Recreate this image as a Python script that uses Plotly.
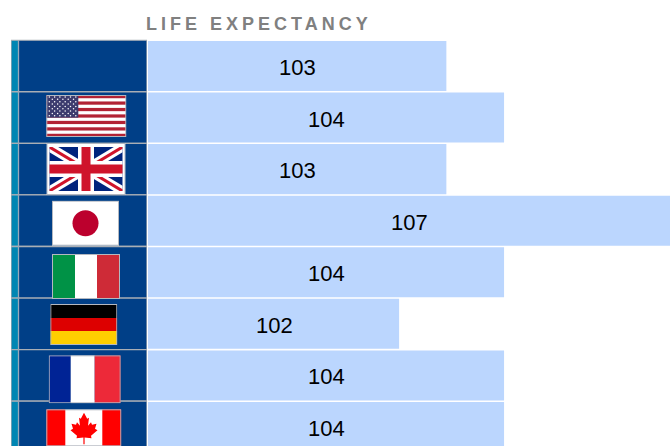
import base64
import plotly.graph_objects as go

countries = ["World", "United States", "United Kingdom", "Japan", "Italy", "Germany", "France", "Canada"]
life_expectancy = [103.23, 104.28, 103.23, 107.3, 104.28, 102.37, 104.28, 104.28]
AXIS_START = 97.8
AXIS_END = 107.3
title_text = "LIFE EXPECTANCY"
W, H = 672, 446

BAR = "#bbd6fe"
NAVY = "#003f87"
TEAL = "#0086b3"
GRID = "#a9aeb5"
BORDER = "#b4b8c0"
FONT = "Liberation Sans, Arial, sans-serif"


def svg_uri(w, h, body):
    s = (f'<svg xmlns="http://www.w3.org/2000/svg" width="{w}" height="{h}" viewBox="0 0 {w} {h}" '
         f'preserveAspectRatio="none">{body}'
         f'<rect x="0.5" y="0.5" width="{w-1}" height="{h-1}" fill="none" stroke="{BORDER}" stroke-width="1"/></svg>')
    return "data:image/svg+xml;base64," + base64.b64encode(s.encode()).decode()


def rect(x, y, w, h, c):
    return f'<rect x="{x}" y="{y}" width="{w}" height="{h}" fill="{c}"/>'


def usa():
    w, h = 80, 42
    b = rect(0, 0, w, h, "#ffffff")
    sh = h / 13
    for i in range(0, 13, 2):
        b += rect(0, i * sh, w, sh, "#b22234")
    b += rect(0, 0, 32, 7 * sh, "#3c3b6e")
    for r in range(9):
        n = 6 if r % 2 == 0 else 5
        off = 3 if r % 2 == 0 else 6
        for i in range(n):
            b += f'<circle cx="{off + i*5.3:.1f}" cy="{2 + r*2.35:.1f}" r="0.75" fill="#ffffff"/>'
    return svg_uri(w, h, b)


def uk():
    w, h = 79, 52
    bx, by, bw, bh = 3, 4, 73, 44
    b = rect(0, 0, w, h, "#ffffff")
    b += rect(bx, by, bw, bh, "#00247d")
    x2, y2 = bx + bw, by + bh
    b += f'<clipPath id="c"><rect x="{bx}" y="{by}" width="{bw}" height="{bh}"/></clipPath><g clip-path="url(#c)">'
    for (a, c, d, e) in [(bx, by, x2, y2), (bx, y2, x2, by)]:
        b += f'<line x1="{a}" y1="{c}" x2="{d}" y2="{e}" stroke="#ffffff" stroke-width="9"/>'
        b += f'<line x1="{a}" y1="{c}" x2="{d}" y2="{e}" stroke="#cf142b" stroke-width="3"/>'
    b += '</g>'
    b += rect(bx + bw/2 - 8, by, 16, bh, "#ffffff") + rect(bx, by + bh/2 - 8, bw, 16, "#ffffff")
    b += rect(bx + bw/2 - 4.5, by, 9, bh, "#cf142b") + rect(bx, by + bh/2 - 4.5, bw, 9, "#cf142b")
    return svg_uri(w, h, b)


def japan():
    w, h = 67, 45
    return svg_uri(w, h, rect(0, 0, w, h, "#ffffff") + f'<circle cx="33.5" cy="22.5" r="13" fill="#bc002d"/>')


def italy():
    w, h = 68, 45
    return svg_uri(w, h, rect(0, 0, 23, h, "#009246") + rect(23, 0, 22, h, "#ffffff") + rect(45, 0, 23, h, "#ce2b37"))


def germany():
    w, h = 67, 41
    return svg_uri(w, h, rect(0, 0, w, 14, "#000000") + rect(0, 14, w, 13, "#dd0000") + rect(0, 27, w, 14, "#ffce00"))


def france():
    w, h = 72, 48
    return svg_uri(w, h, rect(0, 0, 22, h, "#002395") + rect(22, 0, 24, h, "#ffffff") + rect(46, 0, 26, h, "#ed2939"))


def canada():
    w, h = 75, 37
    half = [(0, 3.5), (3.2, 9.5), (5, 8.5), (4, 16.5), (7, 13), (8, 15.5), (12.5, 14.5), (11, 19.5),
            (13.5, 21), (7, 26.5), (7.5, 29), (0.6, 28.3), (0.6, 35)]
    pts = half + [(-x, y) for x, y in reversed(half) if x != 0]
    p = " ".join(f"{37.7 + x},{y}" for x, y in pts)
    return svg_uri(w, h, rect(0, 0, w, h, "#ffffff") + rect(0, 0, 19, h, "#ff0000") + rect(56, 0, 19, h, "#ff0000")
                   + f'<polygon points="{p}" fill="#ff0000"/>')


flags = [
    (usa(), 46.3, 95, 80, 42),
    (uk(), 46.5, 143, 79, 52),
    (japan(), 52, 200.7, 67, 45),
    (italy(), 52, 254, 68, 45),
    (germany(), 50.3, 304, 67, 41),
    (france(), 48.7, 355.3, 72, 48),
    (canada(), 46.3, 409.3, 75, 37),
]

gap = 0.03
top = 40.2
fig = go.Figure()
fig.add_bar(
    y=countries, x=[v - AXIS_START for v in life_expectancy], base=AXIS_START, orientation="h",
    marker=dict(color=BAR, line=dict(width=0)),
    xaxis="x", yaxis="y", hoverinfo="skip",
)
fig.add_bar(y=countries, x=[1] * len(countries), width=1, orientation="h",
            marker=dict(color=TEAL, line=dict(width=1.3, color=GRID)),
            xaxis="x2", yaxis="y", hoverinfo="skip")
fig.add_bar(y=countries, x=[1] * len(countries), width=1, orientation="h",
            marker=dict(color=NAVY, line=dict(width=1.3, color=GRID)),
            xaxis="x3", yaxis="y", hoverinfo="skip")

value_labels = [
    dict(text=f"{v:.0f}", x=(AXIS_START + v) / 2, y=c, xref="x", yref="y", xanchor="center", yanchor="middle",
         xshift=0.5, yshift=-1.5, showarrow=False, font=dict(family=FONT, size=22, color="#000000"))
    for c, v in zip(countries, life_expectancy)
]

hidden = dict(visible=False, fixedrange=True)
rows_visible = (H - top) / 51.57
fig.update_layout(
    width=W, height=H, margin=dict(l=0, r=0, t=0, b=0), paper_bgcolor="#ffffff", plot_bgcolor="#ffffff",
    showlegend=False, barmode="overlay", bargap=gap,
    xaxis=dict(domain=[148 / W, 670 / W], range=[AXIS_START, AXIS_END], anchor="y", **hidden),
    xaxis2=dict(domain=[11 / W, 18.5 / W], range=[0, 1], anchor="y", **hidden),
    xaxis3=dict(domain=[18.5 / W, 147 / W], range=[0, 1], anchor="y", **hidden),
    yaxis=dict(domain=[0, 1 - (top - 0.8) / H], range=[rows_visible - 0.5, -0.5 - 0.8 / 51.57], type="category", anchor="x", **hidden),
    annotations=[dict(text=f"<b>{title_text}</b>", x=143.5 / W, y=1 - 24 / H, xref="paper", yref="paper",
                      xanchor="left", yanchor="middle", align="left", showarrow=False,
                      font=dict(family=FONT, size=18, color="#808080"))] + value_labels,
    images=[dict(source=src, xref="paper", yref="paper", x=x / W, y=1 - y / H, sizex=w / W, sizey=h / H,
                 xanchor="left", yanchor="top", sizing="stretch", layer="above") for src, x, y, w, h in flags],
)

fig.write_html("out.html", config={"displayModeBar": False, "responsive": False},
               post_script="document.body.style.margin='0';document.querySelectorAll('.annotation-text')[0].style.letterSpacing='4px';")
